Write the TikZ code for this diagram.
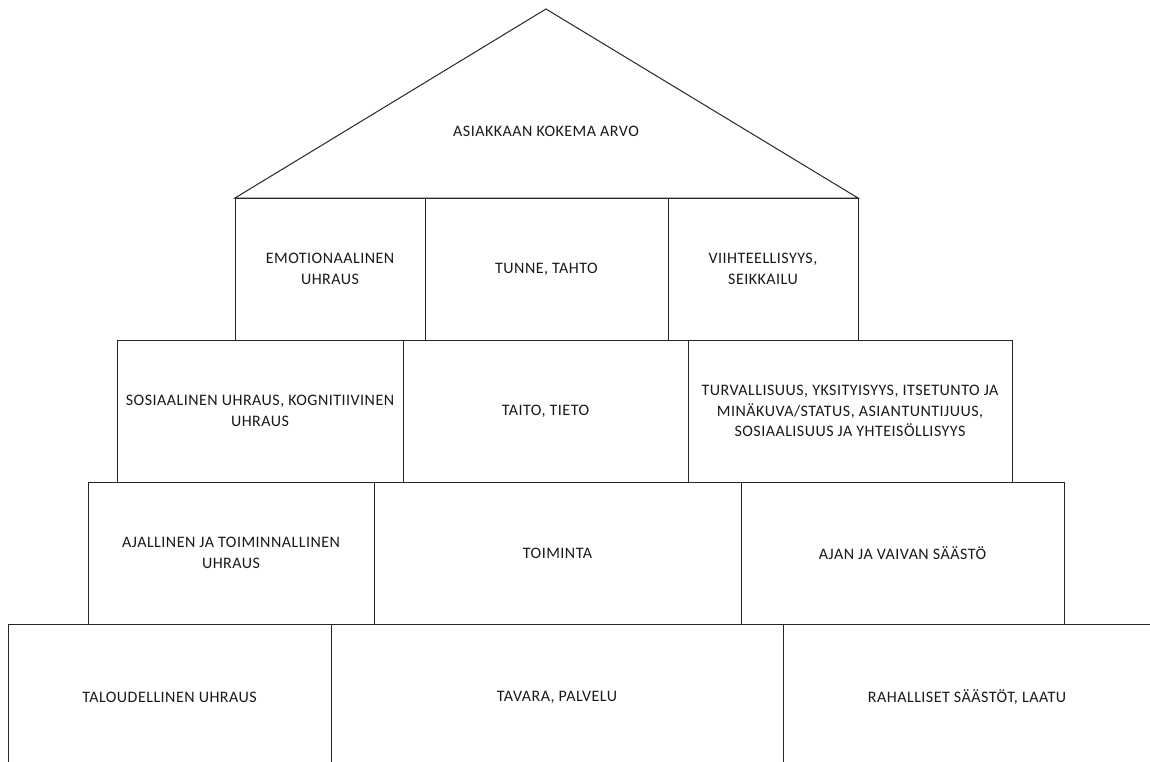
\documentclass[tikz,border=0pt]{standalone}
\usepackage{fontspec}
\setmainfont{Carlito}[LetterSpace=3]
\begin{document}
\begin{tikzpicture}[x=1pt,y=-1pt,
  line width=1pt,
  txt/.style={font=\fontsize{16}{20.5}\selectfont, align=center, text=black!90},
  box/.style={draw=black!85, txt, inner sep=0pt, minimum height=142pt}]
\useasboundingbox (0,0) rectangle (1150,762);
\clip (0,0) rectangle (1150,762);
% roof
\coordinate (rl) at (235,198);
\coordinate (apex) at (546,9);
\coordinate (rr) at (858,198);
\draw[black!85, line join=miter] (rl) -- (apex) -- (rr) -- cycle;
\node[txt] (roof) at (546,131) {ASIAKKAAN KOKEMA ARVO};
% row 1
\node[box, minimum width=190pt] (r1a) at (330,269) {EMOTIONAALINEN\\UHRAUS};
\node[box, minimum width=243pt] (r1b) at (546.5,269) {TUNNE, TAHTO};
\node[box, minimum width=190pt] (r1c) at (763,269) {VIIHTEELLISYYS,\\SEIKKAILU};
% row 2
\node[box, minimum width=286pt] (r2a) at (260,411) {SOSIAALINEN UHRAUS, KOGNITIIVINEN\\UHRAUS};
\node[box, minimum width=285pt] (r2b) at (545.5,411) {TAITO, TIETO};
\node[box, minimum width=324pt] (r2c) at (850,411) {TURVALLISUUS, YKSITYISYYS, ITSETUNTO JA\\MINÄKUVA/STATUS, ASIANTUNTIJUUS,\\SOSIAALISUUS JA YHTEISÖLLISYYS};
% row 3
\node[box, minimum width=286pt] (r3a) at (231,553) {AJALLINEN JA TOIMINNALLINEN\\UHRAUS};
\node[box, minimum width=367pt] (r3b) at (557.5,553) {TOIMINTA};
\node[box, minimum width=323pt] (r3c) at (902.5,553) {AJAN JA VAIVAN SÄÄSTÖ};
% row 4
\node[box, minimum width=323pt, minimum height=146pt] (r4a) at (169.5,697) {TALOUDELLINEN UHRAUS};
\node[box, minimum width=452pt, minimum height=146pt] (r4b) at (557,697) {TAVARA, PALVELU};
\node[box, minimum width=368pt, minimum height=146pt] (r4c) at (967,697) {RAHALLISET SÄÄSTÖT, LAATU};
\end{tikzpicture}
\end{document}
